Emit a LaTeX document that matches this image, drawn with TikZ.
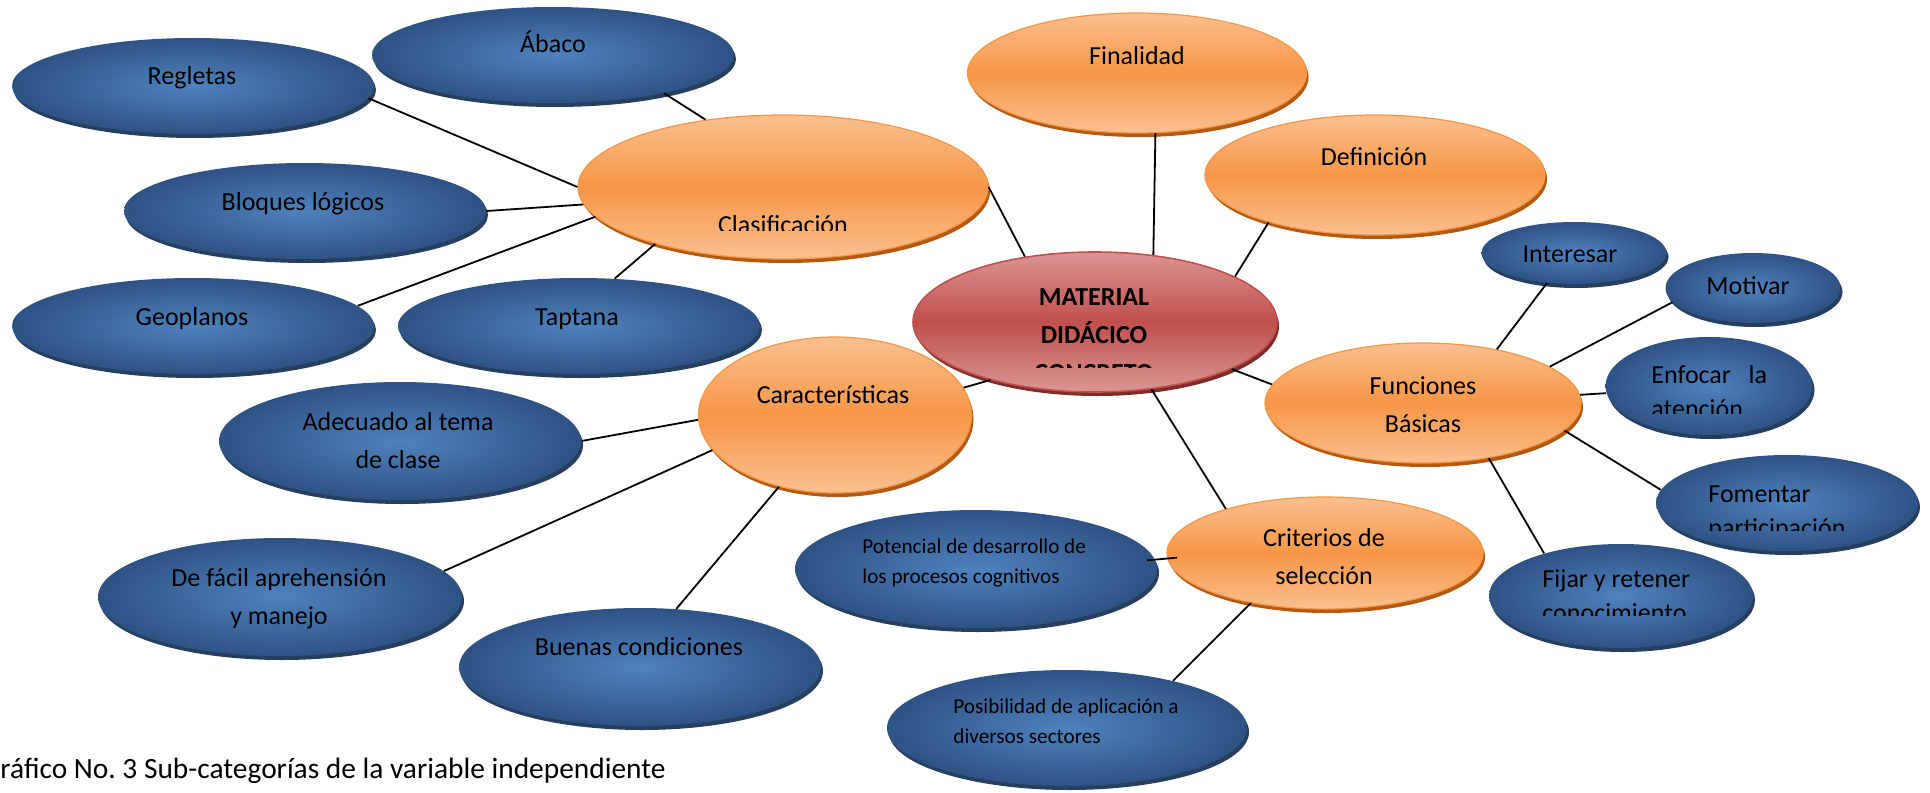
\documentclass[tikz,border=0pt]{standalone}
\usepackage{fontspec}
\setmainfont{Carlito}
\usetikzlibrary{shapes.geometric,shadows}

\definecolor{bluein}{HTML}{4F82BE}
\definecolor{blueout}{HTML}{2F5284}
\definecolor{blueshade}{HTML}{243F60}
\definecolor{orlight}{HTML}{FAC090}
\definecolor{ormid}{HTML}{F79646}
\definecolor{orshade}{HTML}{B35A10}
\definecolor{redlight}{HTML}{DA9694}
\definecolor{redmid}{HTML}{C0504D}
\definecolor{redshade}{HTML}{7F2B28}

\begin{document}
\begin{tikzpicture}[x=0.5pt,y=-0.5pt]

\tikzset{
oval/.style={ellipse,inner sep=0pt,minimum width=181pt,minimum height=48pt},
blueov/.style={oval,inner color=bluein,outer color=blueout,
  drop shadow={shadow xshift=1pt,shadow yshift=-2pt,fill=blueshade,opacity=1}},
orangeov/.style={oval,draw=ormid,line width=0.6pt,top color=orlight,bottom color=orlight,middle color=ormid,
  drop shadow={shadow xshift=1pt,shadow yshift=-2pt,fill=orshade,opacity=1}},
redov/.style={oval,draw=redmid,line width=0.8pt,top color=redlight,bottom color=redlight,middle color=redmid,
  drop shadow={shadow xshift=1pt,shadow yshift=-2pt,fill=redshade,opacity=1}},
txt/.style={font=\fontsize{13pt}{19pt}\selectfont,align=center,inner sep=0pt,anchor=base},
ltxt/.style={font=\fontsize{13pt}{17pt}\selectfont,align=left,inner sep=0pt,anchor=base west},
small/.style={font=\fontsize{10.6pt}{15pt}\selectfont,align=left,inner sep=0pt,anchor=base west},
link/.style={line width=0.9pt}
}

\useasboundingbox (0,0) rectangle (1930,792);
\clip (0,0) rectangle (1930,792);

% vertices
\node[blueov] (regletas) at (193,86) {};
\node[blueov] (abaco) at (553,55) {};
\node[blueov] (bloques) at (305,211) {};
\node[blueov] (geoplanos) at (193,326) {};
\node[blueov] (taptana) at (579,326) {};
\node[blueov,minimum height=59pt] (adecuado) at (400,441) {};
\node[blueov,minimum width=182pt,minimum height=59pt] (defacil) at (280,597) {};
\node[blueov,minimum height=59pt] (buenas) at (640,667) {};
\node[blueov,minimum height=59pt] (potencial) at (976,569) {};
\node[blueov,minimum width=180pt,minimum height=58pt] (posibilidad) at (1067,728) {};
\node[blueov,minimum width=92.5pt,minimum height=31pt] (interesar) at (1574,253) {};
\node[blueov,minimum width=87.5pt,minimum height=35pt] (motivar) at (1753,288) {};
\node[blueov,minimum width=103.5pt,minimum height=49pt] (enfocar) at (1709,386) {};
\node[blueov,minimum width=131pt,minimum height=48pt] (fomentar) at (1787,503) {};
\node[blueov,minimum width=132pt,minimum height=52pt] (fijar) at (1621,596) {};

\node[orangeov,minimum width=205pt,minimum height=72pt] (clasif) at (783,187) {};
\node[orangeov,minimum width=169.5pt,minimum height=60pt] (finalidad) at (1137,73) {};
\node[orangeov,minimum width=170pt,minimum height=60pt] (definicion) at (1375,175) {};
\node[orangeov,minimum width=136.5pt,minimum height=78pt] (caract) at (835,415) {};
\node[orangeov,minimum width=158pt,minimum height=60pt] (funciones) at (1423,403) {};
\node[orangeov,minimum width=158pt,minimum height=56pt] (criterios) at (1325,553) {};

\node[redov,minimum width=182pt,minimum height=70pt] (material) at (1095,322) {};

% texts (multi-line ones sit on their last line)
\node[txt] (regletas-t) at (192,85) {Regletas};
\node[txt] (abaco-t) at (553,53) {Ábaco};
\node[txt] (bloques-t) at (303,210) {Bloques lógicos};
\node[txt] (geoplanos-t) at (192,325) {Geoplanos};
\node[txt] (taptana-t) at (577,325) {Taptana};
\node[txt] (adecuado-t) at (398,468) {Adecuado al tema\\de clase};
\node[txt] (defacil-t) at (279,624) {De fácil aprehensión\\y manejo};
\node[txt] (buenas-t) at (639,655) {Buenas condiciones};
\node[small] (potencial-t) at (862,583) {Potencial de desarrollo de\\los procesos cognitivos};
\node[small] (posibilidad-t) at (953,743) {Posibilidad de aplicación a\\diversos sectores};
\node[txt] (interesar-t) at (1570,262) {Interesar};
\node[txt] (motivar-t) at (1748,294) {Motivar};
\node[txt] (finalidad-t) at (1137,65) {Finalidad};
\node[txt] (definicion-t) at (1374,165) {Definición};
\node[txt] (caract-t) at (833,403) {Características};
\node[txt] (funciones-t) at (1423,432) {Funciones\\Básicas};
\node[txt] (criterios-t) at (1324,584) {Criterios de\\selección};

% texts cut off by their box
\begin{scope}
\clip (600,120) rectangle (960,230);
\node[txt] (clasif-t) at (783,233) {Clasificación};
\end{scope}
\begin{scope}
\clip (950,260) rectangle (1240,367);
\node[txt,font=\fontsize{13pt}{19pt}\selectfont\bfseries] (material-t) at (1094,381) {MATERIAL\\DIDÁCICO\\CONCRETO};
\end{scope}
\begin{scope}
\clip (1620,350) rectangle (1800,413);
\node[ltxt] (enfocar-t) at (1651,417) {Enfocar~~~la\\atención};
\end{scope}
\begin{scope}
\clip (1690,470) rectangle (1910,530);
\node[ltxt] (fomentar-t) at (1708,536) {Fomentar\\participación};
\end{scope}
\begin{scope}
\clip (1520,555) rectangle (1750,615);
\node[ltxt] (fijar-t) at (1542,621) {Fijar y retener\\conocimiento};
\end{scope}

\node[txt,anchor=base east,font=\fontsize{14.7pt}{18pt}\selectfont] (caption) at (666,778) {Gráfico No.~3 Sub-categorías de la variable independiente};

%edges
\path[link]
(regletas.-4)     edge (clasif.180)
(abaco.-19)       edge (clasif.139)
(bloques.0)       edge (clasif.-175)
(geoplanos.7)     edge (clasif.-171)
(taptana.53)      edge (clasif.-156)
(clasif.0)        edge (material.137)
(finalidad.-73)   edge (material.49)
(definicion.-156) edge (material.18)
(caract.12)       edge (material.-151)
(material.-19)    edge (funciones.173)
(material.-50)    edge (criterios.156)
(interesar.-132)  edge (funciones.36)
(motivar.-170)    edge (funciones.16)
(enfocar.-176)    edge (funciones.3)
(fomentar.174)    edge (funciones.-11)
(fijar.151)       edge (funciones.-40)
(adecuado.0)      edge (caract.-178)
(defacil.9)       edge (caract.-164)
(buenas.58)       edge (caract.-128)
(potencial.3)     edge[shorten <=-4pt, shorten >=-5pt] (criterios.-178)
(posibilidad.24)  edge (criterios.-146)
;

\end{tikzpicture}
\end{document}
